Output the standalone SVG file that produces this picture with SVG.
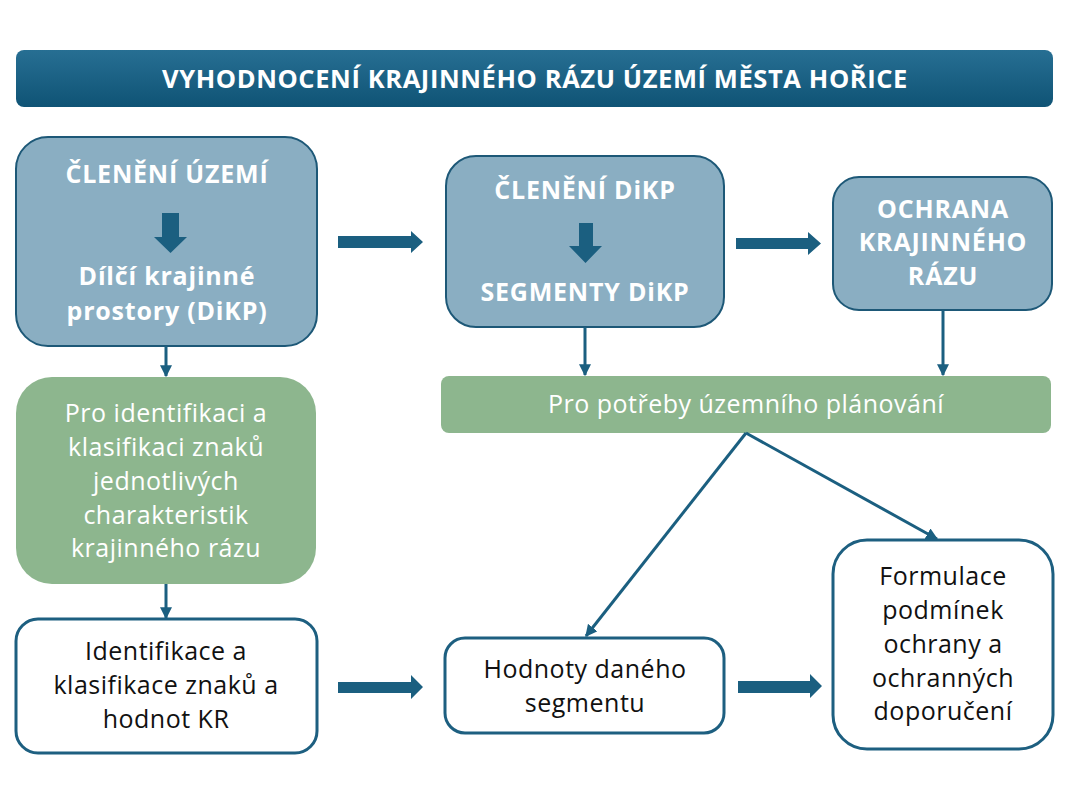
<svg xmlns="http://www.w3.org/2000/svg" width="1068" height="801" viewBox="0 0 1068 801">
<defs>
<linearGradient id="tg" x1="0" y1="0" x2="0" y2="1">
<stop offset="0" stop-color="#276f93"/>
<stop offset="1" stop-color="#0f5375"/>
</linearGradient>
<marker id="ah" viewBox="0 0 10 10" refX="9" refY="5" markerWidth="4" markerHeight="4" orient="auto" markerUnits="strokeWidth">
<path d="M0,0 L10,5 L0,10 z" fill="#1b5f80"/>
</marker>
<style>
.blue{fill:#8aaec2;stroke:#1d5877;stroke-width:2}
.green{fill:#8db68e}
.white{fill:#ffffff;stroke:#1d5f80;stroke-width:3}
.tb{font-family:"Open Sans","Liberation Sans",sans-serif;font-weight:bold;fill:#ffffff;text-anchor:middle;font-size:25px;letter-spacing:0.8px}
.tw{font-family:"Open Sans","Liberation Sans",sans-serif;fill:#ffffff;text-anchor:middle;font-size:25px;letter-spacing:0.5px}
.tk{font-family:"Open Sans","Liberation Sans",sans-serif;fill:#111111;text-anchor:middle;font-size:25px;letter-spacing:0.5px}
.con{stroke:#1b5f80;stroke-width:3;fill:none;marker-end:url(#ah)}
.fat{fill:#1b5f80}
</style>
</defs>
<rect width="1068" height="801" fill="#ffffff"/>
<g id="title">
<rect x="16" y="50" width="1037" height="57" rx="8" fill="url(#tg)"/>
<text class="tb" x="535" y="88" style="font-size:25.5px;letter-spacing:0.6px">VYHODNOCENÍ KRAJINNÉHO RÁZU ÚZEMÍ MĚSTA HOŘICE</text>
</g>
<g id="clenei-uzemi">
<rect class="blue" x="16" y="137" width="301" height="209" rx="32"/>
<text class="tb" x="167" y="183">ČLENĚNÍ ÚZEMÍ</text>
<path class="fat" d="M162,213 H179 V237 H187 L170.5,253 L154,237 H162 Z"/>
<text class="tb" x="167" y="285">Dílčí krajinné</text>
<text class="tb" x="167" y="320">prostory (DiKP)</text>
</g>
<g id="clenei-dikp">
<rect class="blue" x="446" y="156" width="278" height="171" rx="30"/>
<text class="tb" x="585" y="199">ČLENĚNÍ DiKP</text>
<path class="fat" d="M579,223 H593 V246 H602 L585.5,263 L569,246 H579 Z"/>
<text class="tb" x="585" y="301">SEGMENTY DiKP</text>
</g>
<g id="ochrana">
<rect class="blue" x="833" y="177" width="219" height="133" rx="26"/>
<text class="tb" x="943" y="218">OCHRANA</text>
<text class="tb" x="943" y="251">KRAJINNÉHO</text>
<text class="tb" x="943" y="285">RÁZU</text>
</g>
<g id="potreby">
<rect class="green" x="441" y="376" width="610" height="57" rx="8"/>
<text class="tw" x="746" y="413">Pro potřeby územního plánování</text>
</g>
<g id="identifikace-green">
<rect class="green" x="16" y="377" width="300" height="207" rx="36"/>
<text class="tw" x="166" y="422">Pro identifikaci a</text>
<text class="tw" x="166" y="456">klasifikaci znaků</text>
<text class="tw" x="166" y="490">jednotlivých</text>
<text class="tw" x="166" y="524">charakteristik</text>
<text class="tw" x="166" y="557">krajinného rázu</text>
</g>
<g id="identifikace">
<rect class="white" x="16" y="619" width="301" height="134" rx="22"/>
<text class="tk" x="166" y="660">Identifikace a</text>
<text class="tk" x="166" y="694">klasifikace znaků a</text>
<text class="tk" x="166" y="728">hodnot KR</text>
</g>
<g id="hodnoty">
<rect class="white" x="445" y="638" width="279" height="95" rx="20"/>
<text class="tk" x="585" y="678">Hodnoty daného</text>
<text class="tk" x="585" y="712">segmentu</text>
</g>
<g id="formulace">
<rect class="white" x="833" y="540" width="220" height="209" rx="34"/>
<text class="tk" x="943" y="585">Formulace</text>
<text class="tk" x="943" y="619">podmínek</text>
<text class="tk" x="943" y="653">ochrany a</text>
<text class="tk" x="943" y="687">ochranných</text>
<text class="tk" x="943" y="720">doporučení</text>
</g>
<g id="connectors">
<path class="fat" d="M338,236 H411 V231 L423,242 L411,253 V248 H338 Z"/>
<path class="fat" d="M736,238 H808 V232 L821,243.5 L808,255 V249 H736 Z"/>
<path class="fat" d="M338,682 H411 V675 L423,687 L411,699 V693 H338 Z"/>
<path class="fat" d="M738,681 H810 V674 L822,686 L810,698 V693 H738 Z"/>
<line class="con" x1="166" y1="346" x2="166" y2="376"/>
<line class="con" x1="166" y1="584" x2="166" y2="618"/>
<line class="con" x1="585" y1="327" x2="585" y2="375"/>
<line class="con" x1="943" y1="310" x2="943" y2="375"/>
<line class="con" x1="746" y1="433" x2="586" y2="636"/>
<line class="con" x1="746" y1="433" x2="937" y2="539"/>
</g>
</svg>
